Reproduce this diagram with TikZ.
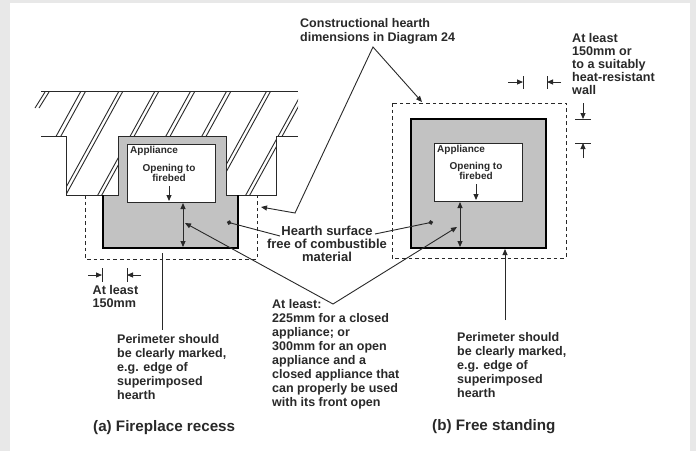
\documentclass[tikz,border=0pt]{standalone}
\usepackage{fontspec}
\setmainfont{Liberation Sans}
\usetikzlibrary{arrows.meta}
\definecolor{ink}{gray}{0.16}
\definecolor{hearth}{gray}{0.76}
\definecolor{edge}{gray}{0.91}
\tikzset{
  x=1pt,y=-1pt,
  line/.style={draw=ink,line width=0.9pt},
  lead/.style={line,-{Triangle[length=6pt,width=5pt]}},
  twoway/.style={line,{Triangle[length=6pt,width=5pt]}-{Triangle[length=6pt,width=5pt]}},
  dotted lead/.style={line,-{Circle[length=4.5pt]}},
  heavy/.style={draw=black,line width=2pt},
  dash box/.style={draw=ink,line width=1pt,dash pattern=on 3.6pt off 3pt},
  lab/.style={font=\bfseries\fontsize{12.5}{14}\selectfont,text=ink,inner sep=0pt,align=left,anchor=north west},
  labt/.style={font=\bfseries\fontsize{12.6}{13}\selectfont,text=ink,inner sep=0pt,align=left,anchor=north west},
  labc/.style={font=\bfseries\fontsize{13}{13}\selectfont,text=ink,inner sep=0pt,align=center},
  small/.style={font=\bfseries\fontsize{10}{10.6}\selectfont,text=ink,inner sep=0pt,align=center},
  caption/.style={font=\bfseries\fontsize{15.2}{16}\selectfont,text=ink,inner sep=0pt,anchor=west},
  appbox/.style={fill=white,draw=ink,line width=1pt}
}
\begin{document}
\begin{tikzpicture}
\useasboundingbox (0,0) rectangle (696,451);
\fill[edge] (0,0) rectangle (696,451);
\fill[white] (10,3) rectangle (690,451);
% wall hatching
\begin{scope}
\clip (41,91) -- (298,91) -- (298,136) -- (276,136) -- (276,195) -- (226,195) -- (226,136) -- (118,136) -- (118,195) -- (66,195) -- (66,136) -- (41,136) -- cycle;
\foreach \t in {85.7,81,123,119,159,155,195,190.7,231,226.7,270.7,266.7,307,303}
  \draw[line] (\t,91) -- (\t-66,211);
\end{scope}
\draw[line] (49,92) -- (39,108) (45,92) -- (35,108);
\draw[line] (41,91) -- (298,91);
\draw[line] (41,136) -- (66,136) -- (66,195) -- (118,195) -- (118,136) -- (226,136) -- (226,195) -- (276,195) -- (276,136) -- (298,136);
% left hearth
\draw[dash box] (85,195) -- (85,259) -- (257,259) -- (257,195);
\fill[hearth] (118,136) -- (226,136) -- (226,195) -- (238,195) -- (238,248) -- (103,248) -- (103,195) -- (118,195) -- cycle;
\draw[line] (103,195) -- (118,195) -- (118,136) -- (226,136) -- (226,195) -- (238,195);
\draw[heavy] (103,195) -- (103,248) -- (238,248) -- (238,195);
\node[appbox,minimum width=88pt,minimum height=58pt,inner sep=0pt] (appA) at (171,173) {};
\node[small,anchor=west] (appAt) at (130,151) {Appliance};
\node[small] (openA) at (169,173) {Opening to\\firebed};
\coordinate (openAs) at (169,186);
\draw[lead] (openAs) -- (169,201);
\coordinate (dA1) at (183,203); \coordinate (dA2) at (183,247);
\draw[twoway] (dA1) -- (dA2);
% right hearth
\draw[dash box] (392,103) rectangle (566,258);
\node[fill=hearth,draw=black,line width=2pt,minimum width=135pt,minimum height=129pt,inner sep=0pt] (hearthB) at (478.5,183.5) {};
\node[appbox,minimum width=88pt,minimum height=58pt,inner sep=0pt] (appB) at (478,172) {};
\node[small,anchor=west] (appBt) at (437,150) {Appliance};
\node[small] (openB) at (476,171) {Opening to\\firebed};
\coordinate (openBs) at (476,184);
\draw[lead] (openBs) -- (476,200);
\coordinate (dB1) at (460,202); \coordinate (dB2) at (460,247);
\draw[twoway] (dB1) -- (dB2);
% labels
\node[lab] (topt) at (300,18) {Constructional hearth\\dimensions in Diagram 24};
\coordinate (apex) at (373,47);
\coordinate (bend) at (295,213);
\coordinate (tipA) at (261,207);
\coordinate (tipB) at (422,102);
\draw[twoway] (tipA) -- (bend) -- (apex) -- (tipB);
\node[labc] (surf) at (327,244) {Hearth surface\\free of combustible\\material};
\coordinate (dotA) at (227,222);
\coordinate (dotB) at (433,222);
\draw[dotted lead] (280,236) -- (dotA);
\draw[dotted lead] (375,234) -- (dotB);
\node[lab] (wid) at (272,299) {At least:\\225mm for a closed\\appliance; or\\300mm for an open\\appliance and a\\closed appliance that\\can properly be used\\with its front open};
\coordinate (vee) at (333,304);
\draw[twoway] (185,223) -- (vee) -- (457,227);
\node[labt] (side) at (572,33) {At least\\150mm or\\to a suitably\\heat-resistant\\wall};
% left dimension
\coordinate (tl) at (102,268); \coordinate (tl2) at (102,282);
\coordinate (tr) at (127,268); \coordinate (tr2) at (127,282);
\draw[line] (tl) -- (tl2) (tr) -- (tr2);
\draw[lead] (88,275) -- (102,275);
\draw[lead] (141,275) -- (127,275);
\node[labt] (leastA) at (92.5,285) {At least\\150mm};
% right dimensions
\draw[line] (523,76) -- (523,89) (547,76) -- (547,89);
\draw[lead] (508,82) -- (523,82);
\draw[lead] (561,82) -- (547,82);
\draw[line] (575,119) -- (591,119) (575,143) -- (591,143);
\draw[lead] (583,103) -- (583,119);
\draw[lead] (583,158) -- (583,143);
% perimeter
\node[lab] (perA) at (117,334) {Perimeter should\\be clearly marked,\\e.g. edge of\\superimposed\\hearth};
\node[lab] (perB) at (457,332) {Perimeter should\\be clearly marked,\\e.g. edge of\\superimposed\\hearth};
\coordinate (markA) at (162,253);
\draw[line] (markA) -- (162,330);
\draw[lead] (505,320) -- (505,249);
% captions
\node[caption] (capA) at (93,428) {(a) Fireplace recess};
\node[caption] (capB) at (432,427) {(b) Free standing};
\end{tikzpicture}
\end{document}
